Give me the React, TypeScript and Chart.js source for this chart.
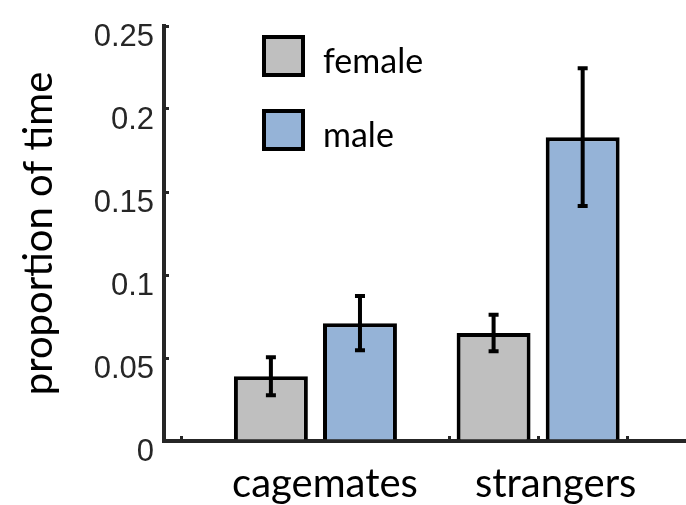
import React, { useEffect, useRef } from 'react';
import { Chart, registerables } from 'chart.js';

Chart.register(...registerables);

const categories = ['cagemates', 'strangers'];
const categoryLabelPositions = [2.607, 5.197];
const seriesNames = ['female', 'male'];
const femalePositions = [2, 4.5];
const malePositions = [3, 5.5];
const femaleValues = [0.039, 0.065];
const maleValues = [0.071, 0.183];
const femaleErrors = [0.0115, 0.011];
const maleErrors = [0.0163, 0.0415];
const yTickValues = [0, 0.05, 0.1, 0.15, 0.2, 0.25];
const xTickValues = [1, 2, 3, 4, 5, 6];

const AXIS = '#262626';

const errorBarPlugin = {
  id: 'errorBars',
  afterDatasetsDraw(chart: any) {
    const ctx = chart.ctx;
    const y = chart.scales.y;
    chart.data.datasets.forEach((ds: any, di: number) => {
      const meta = chart.getDatasetMeta(di);
      meta.data.forEach((el: any, i: number) => {
        const v = ds.data[i].y;
        const e = ds.errors[i];
        const yHi = y.getPixelForValue(v + e);
        const yLo = y.getPixelForValue(v - e);
        ctx.save();
        ctx.strokeStyle = '#000';
        ctx.lineWidth = 4;
        ctx.beginPath();
        ctx.moveTo(el.x, yHi);
        ctx.lineTo(el.x, yLo);
        ctx.moveTo(el.x - 5, yHi);
        ctx.lineTo(el.x + 5, yHi);
        ctx.moveTo(el.x - 5, yLo);
        ctx.lineTo(el.x + 5, yLo);
        ctx.stroke();
        ctx.restore();
      });
    });
  },
};

const legendPlugin = {
  id: 'insideLegend',
  afterDraw(chart: any) {
    const ctx = chart.ctx;
    const area = chart.chartArea;
    chart.data.datasets.forEach((ds: any, i: number) => {
      const bx = area.left + 98;
      const by = area.top + 9 + i * 74;
      ctx.save();
      ctx.fillStyle = ds.backgroundColor;
      ctx.fillRect(bx, by, 43, 42);
      ctx.strokeStyle = '#000';
      ctx.lineWidth = 4;
      ctx.strokeRect(bx + 2, by + 2, 39, 38);
      ctx.fillStyle = '#000';
      ctx.font = '34px Lato';
      ctx.textBaseline = 'alphabetic';
      ctx.textAlign = 'left';
      ctx.fillText(ds.label, bx + 61, by + 38);
      ctx.restore();
    });
  },
};

export default function App() {
  const canvasRef = useRef<HTMLCanvasElement | null>(null);

  useEffect(() => {
    document.body.style.margin = '0';
    const canvas = canvasRef.current;
    if (!canvas) return;
    const chart = new Chart(canvas, {
      type: 'bar',
      data: {
        datasets: [
          {
            label: seriesNames[0],
            data: femalePositions.map((x, i) => ({ x, y: femaleValues[i] })),
            errors: femaleErrors,
            backgroundColor: '#bfbfbf',
            borderColor: '#000',
            borderWidth: 4,
            grouped: false,
            barPercentage: 0.83,
            categoryPercentage: 1,
            xAxisID: 'x',
            yAxisID: 'y',
          } as any,
          {
            label: seriesNames[1],
            data: malePositions.map((x, i) => ({ x, y: maleValues[i] })),
            errors: maleErrors,
            backgroundColor: '#95b3d7',
            borderColor: '#000',
            borderWidth: 4,
            grouped: false,
            barPercentage: 0.83,
            categoryPercentage: 1,
            xAxisID: 'x',
            yAxisID: 'y',
          } as any,
        ],
      },
      options: {
        animation: false,
        responsive: true,
        maintainAspectRatio: false,
        layout: { padding: { top: 26, right: 0, left: 0, bottom: 0 } },
        plugins: {
          legend: { display: false },
          tooltip: { enabled: false },
        },
        scales: {
          x: {
            type: 'linear',
            position: 'bottom',
            min: 0.8,
            max: 6.66,
            offset: false,
            z: 1,
            afterBuildTicks: (s: any) => {
              s.ticks = xTickValues.map((v) => ({ value: v }));
            },
            ticks: { display: false },
            grid: {
              offset: false,
              drawOnChartArea: false,
              drawTicks: true,
              tickLength: -5,
              lineWidth: 3,
              color: AXIS,
            },
            border: { display: true, width: 4, color: AXIS },
            afterFit: (s: any) => {
              s.height = 0;
              s.paddingLeft = 0;
              s.paddingRight = 0;
            },
          },
          xl: {
            type: 'linear',
            position: 'bottom',
            min: 0.8,
            max: 6.66,
            offset: false,
            afterBuildTicks: (s: any) => {
              s.ticks = categoryLabelPositions.map((v) => ({ value: v }));
            },
            ticks: {
              callback: (_v: any, i: number) => categories[i],
              font: { family: 'Lato', size: 40 },
              color: '#000',
              padding: 19,
              maxRotation: 0,
              autoSkip: false,
            },
            grid: { display: false, drawTicks: false, offset: false },
            border: { display: false },
            afterFit: (s: any) => {
              s.height = 64;
              s.paddingLeft = 0;
              s.paddingRight = 0;
            },
          },
          y: {
            min: 0,
            max: 0.25,
            afterBuildTicks: (s: any) => {
              s.ticks = yTickValues.map((v) => ({ value: v }));
            },
            ticks: {
              callback: (v: any) => String(Number(Number(v).toFixed(2))),
              font: { family: 'Liberation Sans', size: 31 },
              color: AXIS,
              padding: 15,
              labelOffset: 11,
            },
            grid: {
              drawOnChartArea: false,
              drawTicks: true,
              tickLength: -5,
              lineWidth: 3,
              color: AXIS,
            },
            border: { display: true, width: 4, color: AXIS },
            title: {
              display: true,
              text: 'proportion of time',
              font: { family: 'Lato', size: 40 },
              color: '#000',
              padding: { top: 15, bottom: 0 },
            },
            afterFit: (s: any) => {
              s.width = 164;
              s.paddingTop = 0;
              s.paddingBottom = 0;
            },
          },
        } as any,
      },
      plugins: [errorBarPlugin, legendPlugin],
    });
    return () => chart.destroy();
  }, []);

  return (
    <div style={{ position: 'relative', width: '686px', height: '505px' }}>
      <canvas ref={canvasRef} />
    </div>
  );
}
